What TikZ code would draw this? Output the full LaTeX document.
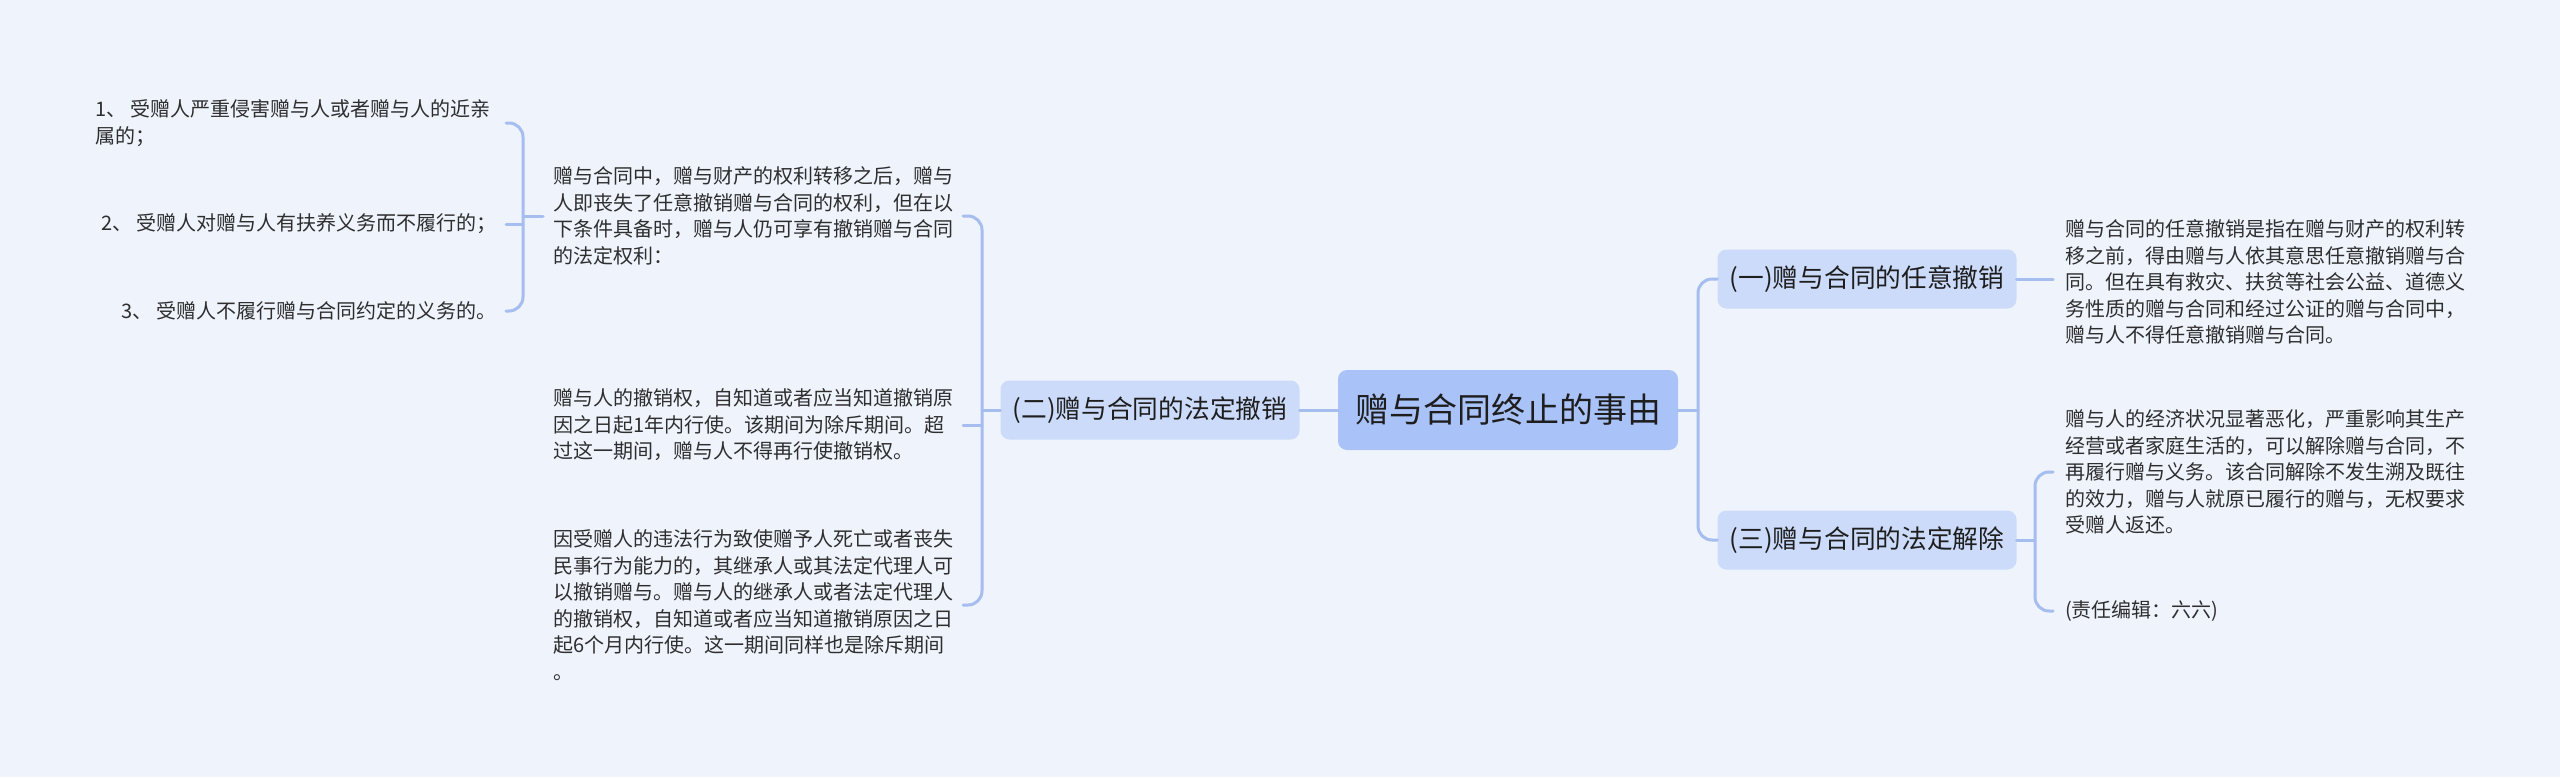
\documentclass[tikz,border=0pt]{standalone}
\usepackage{fontspec}
\setmainfont{Noto Sans CJK SC}
\definecolor{bgc}{HTML}{EEF3FC}
\definecolor{rootc}{HTML}{A9C2F8}
\definecolor{topc}{HTML}{CCDBFA}
\definecolor{linec}{HTML}{A6BDF0}
\definecolor{txt}{HTML}{2E2E2E}
\definecolor{txtdark}{HTML}{1E1E1E}
\begin{document}
\begin{tikzpicture}[x=1pt,y=-1pt,
  conn/.style={draw=linec, line width=3pt, line cap=round},
  rootbox/.style={fill=rootc, rounded corners=9pt, minimum width=340pt, minimum height=80pt, inner sep=0pt, font=\fontsize{34}{40}\selectfont, text=txtdark},
  topicbox/.style={fill=topc, rounded corners=9pt, minimum width=299pt, minimum height=59pt, inner sep=0pt, font=\fontsize{25.7}{30}\selectfont, text=txtdark},
  leaf/.style={inner sep=0pt, align=left, font=\fontsize{20}{26.5}\selectfont, text=txt, anchor=west},
  bracket/.style={conn, rounded corners=14pt}
]
\fill[bgc] (0,0) rectangle (2560,777);
\useasboundingbox (0,0) rectangle (2560,777);

% main nodes
\node[rootbox] (root) at (1508,410) {赠与合同终止的事由};
\node[topicbox] (t2) at (1150,410) {(二)赠与合同的法定撤销};
\node[topicbox] (t1) at (1867,279) {(一)赠与合同的任意撤销};
\node[topicbox] (t3) at (1867,540) {(三)赠与合同的法定解除};

% right leaves
\node[leaf] (d) at (2065,282) {赠与合同的任意撤销是指在赠与财产的权利转\\移之前，得由赠与人依其意思任意撤销赠与合\\同。但在具有救灾、扶贫等社会公益、道德义\\务性质的赠与合同和经过公证的赠与合同中，\\赠与人不得任意撤销赠与合同。};
\node[leaf] (e) at (2065,472) {赠与人的经济状况显著恶化，严重影响其生产\\经营或者家庭生活的，可以解除赠与合同，不\\再履行赠与义务。该合同解除不发生溯及既往\\的效力，赠与人就原已履行的赠与，无权要求\\受赠人返还。};
\node[leaf] (f) at (2065,611) {(责任编辑：六六)};

% left leaves
\node[leaf] (p) at (553,216) {赠与合同中，赠与财产的权利转移之后，赠与\\人即丧失了任意撤销赠与合同的权利，但在以\\下条件具备时，赠与人仍可享有撤销赠与合同\\的法定权利：};
\node[leaf] (b) at (553,425) {赠与人的撤销权，自知道或者应当知道撤销原\\因之日起1年内行使。该期间为除斥期间。超\\过这一期间，赠与人不得再行使撤销权。};
\node[leaf] (c) at (553,605) {因受赠人的违法行为致使赠予人死亡或者丧失\\民事行为能力的，其继承人或其法定代理人可\\以撤销赠与。赠与人的继承人或者法定代理人\\的撤销权，自知道或者应当知道撤销原因之日\\起6个月内行使。这一期间同样也是除斥期间\\。};

\node[leaf] (l1) at (95,123) {1、 受赠人严重侵害赠与人或者赠与人的近亲\\属的；};
\node[leaf] (l2) at (101,224) {2、 受赠人对赠与人有扶养义务而不履行的；};
\node[leaf] (l3) at (121,311) {3、 受赠人不履行赠与合同约定的义务的。};

% helper coordinates
\coordinate (rv) at (1698,410);
\coordinate (rs) at (2053,0);
\coordinate (v3) at (2035,0);
\coordinate (mv) at (982,0);
\coordinate (ms) at (963,0);
\coordinate (lv) at (523,0);
\coordinate (ls) at (506,0);
\coordinate (pl) at (543,0);

% connectors
\draw[conn] (root.west) -- (t2.east);
\draw[conn] (root.east) -- (rv);
\draw[bracket] (t1.west) -- (t1.west -| rv) -- (t3.west -| rv) -- (t3.west);

\draw[conn] (t1.east) -- (t1.east -| rs);
\draw[conn] (t3.east) -- (t3.east -| v3);
\draw[bracket] (e.west -| rs) -- (e.west -| v3) -- (f.west -| v3) -- (f.west -| rs);

\draw[conn] (t2.west) -- (t2.west -| mv);
\draw[bracket] (p.west -| ms) -- (p.west -| mv) -- (c.west -| mv) -- (c.west -| ms);
\draw[conn] (b.west -| ms) -- (b.west -| mv);

\draw[conn] (p.west -| pl) -- (p.west -| lv);
\draw[bracket] (l1.west -| ls) -- (l1.west -| lv) -- (l3.west -| lv) -- (l3.west -| ls);
\draw[conn] (l2.west -| ls) -- (l2.west -| lv);
\end{tikzpicture}
\end{document}
